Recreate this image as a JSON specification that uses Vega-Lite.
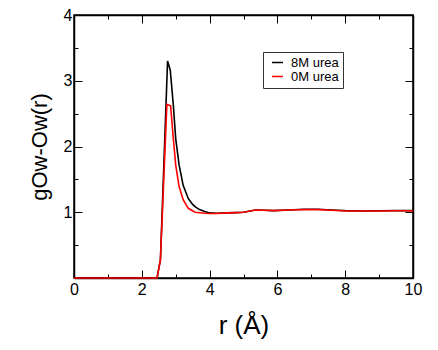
{
  "$schema": "https://vega.github.io/schema/vega-lite/v6.json",
  "width": 339,
  "height": 263,
  "autosize": "none",
  "padding": {"left": 74, "top": 15, "right": 25, "bottom": 72},
  "background": "white",
  "config": {"view": {"stroke": "black", "strokeWidth": 1.5}, "font": "Liberation Sans"},
  "data": {"values": [
    {"r": 0, "g": 0, "s": "8M urea"},
    {"r": 2.45, "g": 0, "s": "8M urea"},
    {"r": 2.55, "g": 0.28, "s": "8M urea"},
    {"r": 2.76, "g": 3.30, "s": "8M urea"},
    {"r": 2.84, "g": 3.16, "s": "8M urea"},
    {"r": 2.93, "g": 2.63, "s": "8M urea"},
    {"r": 3.0, "g": 2.12, "s": "8M urea"},
    {"r": 3.1, "g": 1.72, "s": "8M urea"},
    {"r": 3.22, "g": 1.41, "s": "8M urea"},
    {"r": 3.37, "g": 1.21, "s": "8M urea"},
    {"r": 3.5, "g": 1.12, "s": "8M urea"},
    {"r": 3.57, "g": 1.085, "s": "8M urea"},
    {"r": 3.7, "g": 1.04, "s": "8M urea"},
    {"r": 3.86, "g": 1.01, "s": "8M urea"},
    {"r": 4.0, "g": 0.99, "s": "8M urea"},
    {"r": 4.2, "g": 0.985, "s": "8M urea"},
    {"r": 4.5, "g": 0.99, "s": "8M urea"},
    {"r": 4.8, "g": 0.995, "s": "8M urea"},
    {"r": 5.0, "g": 1.0, "s": "8M urea"},
    {"r": 5.2, "g": 1.02, "s": "8M urea"},
    {"r": 5.35, "g": 1.035, "s": "8M urea"},
    {"r": 5.6, "g": 1.03, "s": "8M urea"},
    {"r": 5.9, "g": 1.025, "s": "8M urea"},
    {"r": 6.3, "g": 1.035, "s": "8M urea"},
    {"r": 6.8, "g": 1.045, "s": "8M urea"},
    {"r": 7.2, "g": 1.045, "s": "8M urea"},
    {"r": 7.6, "g": 1.035, "s": "8M urea"},
    {"r": 8.0, "g": 1.025, "s": "8M urea"},
    {"r": 8.5, "g": 1.02, "s": "8M urea"},
    {"r": 9.0, "g": 1.022, "s": "8M urea"},
    {"r": 9.5, "g": 1.025, "s": "8M urea"},
    {"r": 10, "g": 1.025, "s": "8M urea"},
    {"r": 0, "g": 0, "s": "0M urea"},
    {"r": 2.45, "g": 0, "s": "0M urea"},
    {"r": 2.55, "g": 0.28, "s": "0M urea"},
    {"r": 2.74, "g": 2.64, "s": "0M urea"},
    {"r": 2.85, "g": 2.62, "s": "0M urea"},
    {"r": 2.93, "g": 2.12, "s": "0M urea"},
    {"r": 3.0, "g": 1.72, "s": "0M urea"},
    {"r": 3.1, "g": 1.39, "s": "0M urea"},
    {"r": 3.22, "g": 1.19, "s": "0M urea"},
    {"r": 3.37, "g": 1.06, "s": "0M urea"},
    {"r": 3.57, "g": 1.0, "s": "0M urea"},
    {"r": 3.86, "g": 0.985, "s": "0M urea"},
    {"r": 4.0, "g": 0.98, "s": "0M urea"},
    {"r": 4.2, "g": 0.98, "s": "0M urea"},
    {"r": 4.5, "g": 0.99, "s": "0M urea"},
    {"r": 4.8, "g": 0.995, "s": "0M urea"},
    {"r": 5.0, "g": 1.0, "s": "0M urea"},
    {"r": 5.2, "g": 1.02, "s": "0M urea"},
    {"r": 5.35, "g": 1.035, "s": "0M urea"},
    {"r": 5.6, "g": 1.03, "s": "0M urea"},
    {"r": 5.9, "g": 1.025, "s": "0M urea"},
    {"r": 6.3, "g": 1.035, "s": "0M urea"},
    {"r": 6.8, "g": 1.04, "s": "0M urea"},
    {"r": 7.2, "g": 1.04, "s": "0M urea"},
    {"r": 7.6, "g": 1.03, "s": "0M urea"},
    {"r": 8.0, "g": 1.02, "s": "0M urea"},
    {"r": 8.5, "g": 1.018, "s": "0M urea"},
    {"r": 9.0, "g": 1.02, "s": "0M urea"},
    {"r": 9.5, "g": 1.022, "s": "0M urea"},
    {"r": 10, "g": 1.022, "s": "0M urea"}
  ]},
  "layer": [
    {
      "transform": [{"filter": "datum.s === '8M urea'"}],
      "mark": {"type": "line", "strokeWidth": 1.6},
      "encoding": {
        "x": {"field": "r", "type": "quantitative",
          "scale": {"domain": [0, 10], "nice": false},
          "axis": {"orient": "bottom", "values": [0,1,2,3,4,5,6,7,8,9,10],
            "tickSize": {"condition": {"test": "datum.value % 2 === 0", "value": -8}, "value": -4},
            "labelExpr": "datum.value % 2 === 0 ? datum.label : ''", "labelFlush": false,
            "labelFontSize": 16, "labelColor": "black", "labelPadding": 11,
            "tickColor": "black", "domainColor": "black", "domainWidth": 1.5, "grid": false,
            "title": "r (Å)", "titleFontSize": 26, "titleFontWeight": "normal", "titleColor": "black", "titlePadding": 15}},
        "y": {"field": "g", "type": "quantitative",
          "scale": {"domain": [0, 4], "nice": false},
          "axis": {"orient": "left", "values": [0,0.5,1,1.5,2,2.5,3,3.5,4], "format": "~g",
            "tickSize": {"condition": {"test": "datum.value % 1 === 0", "value": -8}, "value": -4},
            "labelExpr": "datum.value % 1 === 0 && datum.value > 0 ? datum.label : ''", "labelFlush": false,
            "labelFontSize": 16, "labelColor": "black", "labelPadding": 10,
            "tickColor": "black", "domainColor": "black", "domainWidth": 1.5, "grid": false,
            "title": "gOw-Ow(r)", "titleFontSize": 22, "titleFontWeight": "normal", "titleColor": "black", "titlePadding": 12}},
        "color": {"field": "s", "type": "nominal",
          "scale": {"domain": ["8M urea", "0M urea"], "range": ["black", "red"]},
          "legend": {"title": null, "orient": "none", "legendX": 189, "legendY": 37,
            "symbolType": "stroke", "symbolSize": 121, "symbolStrokeWidth": 1.5, "symbolOffset": 4,
            "labelFontSize": 13, "labelColor": "black", "labelOffset": 7, "strokeColor": "#333", "fillColor": "white",
            "padding": 4, "rowPadding": 0}}
      }
    },
    {
      "transform": [{"filter": "datum.s === '0M urea'"}],
      "mark": {"type": "line", "strokeWidth": 1.6},
      "encoding": {
        "x": {"field": "r", "type": "quantitative",
          "scale": {"domain": [0, 10], "nice": false},
          "axis": {"orient": "top", "values": [0,1,2,3,4,5,6,7,8,9,10],
            "tickSize": {"condition": {"test": "datum.value % 2 === 0", "value": -8}, "value": -4},
            "labels": false, "tickColor": "black", "domainColor": "black", "domainWidth": 1.5, "grid": false, "title": null}},
        "y": {"field": "g", "type": "quantitative",
          "scale": {"domain": [0, 4], "nice": false},
          "axis": {"orient": "right", "values": [0,0.5,1,1.5,2,2.5,3,3.5,4],
            "tickSize": {"condition": {"test": "datum.value % 1 === 0", "value": -8}, "value": -4},
            "labels": false, "tickColor": "black", "domainColor": "black", "domainWidth": 1.5, "grid": false, "title": null}},
        "color": {"field": "s", "type": "nominal",
          "scale": {"domain": ["8M urea", "0M urea"], "range": ["black", "red"]}}
      }
    }
  ],
  "resolve": {"axis": {"x": "independent", "y": "independent"}}
}
